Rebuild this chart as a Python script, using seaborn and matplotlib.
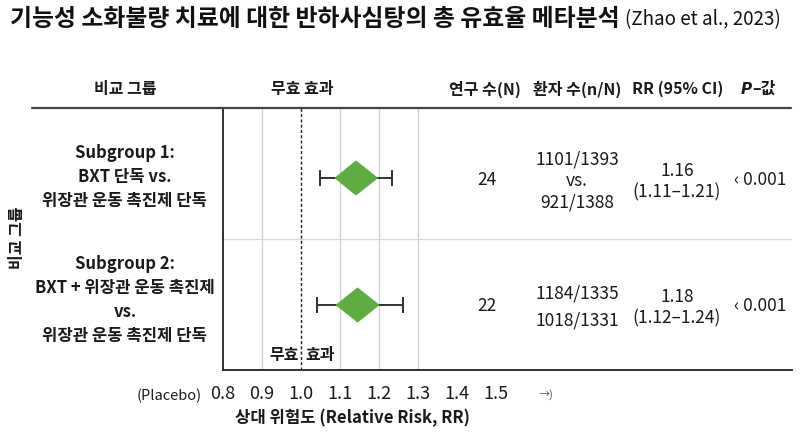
import matplotlib
matplotlib.use("Agg")
import matplotlib.pyplot as plt
import seaborn as sns
import numpy as np
import pandas as pd

# ---------------- data ----------------
title_main = "기능성 소화불량 치료에 대한 반하사심탕의 총 유효율 메타분석"
title_ref = "(Zhao et al., 2023)"
headers = ["비교 그룹", "무효 효과", "연구 수(N)", "환자 수(n/N)", "RR (95% CI)", "P-값"]
group_labels = ["Subgroup 1:\nBXT 단독 vs.\n위장관 운동 촉진제 단독",
                "Subgroup 2:\nBXT + 위장관 운동 촉진제\nvs.\n위장관 운동 촉진제 단독"]
n_studies = ["24", "22"]
n_patients = ["1101/1393\nvs.\n921/1388", "1184/1335\n1018/1331"]
rr_text = ["1.16\n(1.11–1.21)", "1.18\n(1.12–1.24)"]
p_text = ["‹ 0.001", "‹ 0.001"]
# values as drawn in the picture
rr_center = [1.141, 1.145]
diamond_lo = [1.087, 1.090]
diamond_hi = [1.196, 1.200]
ci_lo = [1.050, 1.042]
ci_hi = [1.233, 1.261]
rows = [0, 1]
x_ticks = [0.8, 0.9, 1.0, 1.1, 1.2, 1.3, 1.4, 1.5]
grid_x = [0.9, 1.1, 1.2, 1.3]
null_x = 1.0

df = pd.DataFrame({"row": rows, "rr": rr_center, "dlo": diamond_lo, "dhi": diamond_hi,
                   "lo": ci_lo, "hi": ci_hi})

# ---------------- style ----------------
sns.set_theme(style="white")
plt.rcParams["font.family"] = ["Noto Sans CJK KR", "DejaVu Sans"]
plt.rcParams["axes.unicode_minus"] = False

W, H = 800, 436
fig = plt.figure(figsize=(8, 4.36), dpi=100)
fig.patch.set_facecolor("white")

def px(x, y):
    return x / W, 1 - y / H

def ftext(x, y, s, **kw):
    kw.setdefault("ha", "center")
    kw.setdefault("va", "center")
    kw.setdefault("color", "#1a1a1a")
    return fig.text(*px(x, y), s, **kw)

ax_l, ax_r, ax_t, ax_b = 222.7, 791.7, 108, 370
ax = fig.add_axes([ax_l / W, 1 - ax_b / H, (ax_r - ax_l) / W, (ax_b - ax_t) / H])
ax.set_facecolor("white")

xmin = 0.8
xmax = 0.8 + (ax_r - ax_l) / 391.0
ax.set_xlim(xmin, xmax)
# row 0 centre at y=178px, row 1 at y=305px
ppu = 127.0
ax.set_ylim(1 + (ax_b - 305) / ppu, -(178 - ax_t) / ppu)

for gx in grid_x:
    ax.axvline(gx, color="#cfcfcf", lw=0.9, zorder=0)
ax.axvline(null_x, color="#222222", lw=1.0, ls=(0, (2.2, 1.6)), zorder=1)
ax.axhline(0.48, color="#d5d5d5", lw=0.9, zorder=0)

# error bars
ax.errorbar(df["rr"], df["row"],
            xerr=[df["rr"] - df["lo"], df["hi"] - df["rr"]],
            fmt="none", ecolor="#222222", elinewidth=1.3, capsize=6, capthick=1.3, zorder=2)
# diamonds
half_h = 0.135
for _, r in df.iterrows():
    ax.fill([r["dlo"], r["rr"], r["dhi"], r["rr"]],
            [r["row"], r["row"] - half_h, r["row"], r["row"] + half_h],
            color="#5eac42", edgecolor="#5eac42", lw=0.5, zorder=3)

sns.despine(ax=ax, top=True, right=True)
for sp in ["left", "bottom"]:
    ax.spines[sp].set_color("#222222")
    ax.spines[sp].set_linewidth(1.3)
ax.set_yticks([])
ax.set_xticks(x_ticks)
ax.set_xticklabels([f"{t:.1f}" for t in x_ticks], fontsize=13, color="#1a1a1a", fontweight="medium")
ax.tick_params(axis="x", length=0, pad=11)
ax.grid(False)

# "무효 | 효과" small labels inside plot
ftext(299, 355, "무효", ha="right", fontsize=11.5, fontweight="bold")
ftext(305, 355, "효과", ha="left", fontsize=11.5, fontweight="bold")

# header line
fig.add_artist(plt.Line2D([32 / W, 791 / W], [1 - 107.7 / H, 1 - 107.7 / H],
                          color="#444444", lw=1.6))

# title
ftext(10, 19, title_main, ha="left", fontsize=17.2, fontweight="heavy", color="#111111")
ftext(625, 20, title_ref, ha="left", fontsize=13.5, fontweight="medium", color="#111111")

# headers
hx = [125, 302, 485, 577, 678, 758]
for x, h in zip(hx, headers):
    if h.startswith("P-"):
        ftext(x - 6, 89, "P", ha="right", fontsize=11, fontweight="bold", style="italic",
              family=["DejaVu Sans"])
        ftext(x - 6, 89, "–값", ha="left", fontsize=11.5, fontweight="bold")
    else:
        ftext(x, 89, h, fontsize=11.5, fontweight="bold")

# row label block
row_y = [177, 300]
for y, lab in zip(row_y, group_labels):
    ftext(125, y, lab, fontsize=12, fontweight="bold", linespacing=1.45)

ftext(17, 238, "비교 그룹", rotation=90, fontsize=11.5, fontweight="bold")

# table columns
tab_y = [180, 306]
for i in range(2):
    ftext(487, tab_y[i], n_studies[i], fontsize=12.5, fontweight="medium")
    ftext(577, tab_y[i] + 1, n_patients[i], fontsize=12.5, fontweight="medium",
          linespacing=1.25 if i == 0 else 1.6)
    ftext(677, tab_y[i] + 2, rr_text[i], fontsize=12.5, fontweight="medium", linespacing=1.25)
    ftext(760, tab_y[i], p_text[i], fontsize=12.5, fontweight="medium")

# axis footer texts
ftext(202, 396, "(Placebo)", ha="right", fontsize=10.5, fontweight="medium")
ftext(546, 395, "→)", fontsize=8, color="#555555")
ftext(352, 418, "상대 위험도 (Relative Risk, RR)", fontsize=12, fontweight="bold")

fig.savefig("out.png", dpi=100, facecolor="white")
